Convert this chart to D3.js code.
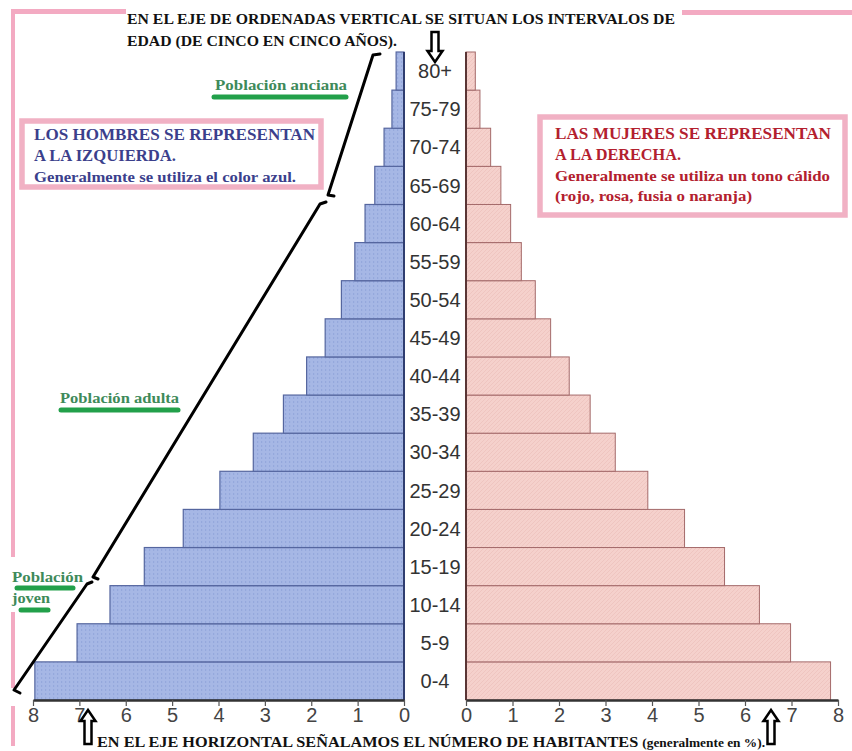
<!DOCTYPE html>
<html>
<head>
<meta charset="utf-8">
<script src="https://cdn.jsdelivr.net/npm/d3@7"></script>
<style>
  body { margin: 0; background: #fff; }
  svg { display: block; }
  .age { font-family: "Liberation Sans", Arial, sans-serif; font-size: 20px; fill: #333; }
  .tick text { font-family: "Liberation Sans", Arial, sans-serif; font-size: 20px; fill: #444; }
  .serif { font-family: "Liberation Serif", "Times New Roman", serif; font-weight: bold; }
</style>
</head>
<body>
<svg id="chart" width="852" height="751"></svg>
<script>
// Age groups, bottom to top
const ages = ['0-4', '5-9', '10-14', '15-19', '20-24', '25-29', '30-34', '35-39',
  '40-44', '45-49', '50-54', '55-59', '60-64', '65-69', '70-74', '75-79', '80+'];
// Men (left side), % of population
const men = [7.96, 7.05, 6.34, 5.60, 4.76, 3.97, 3.25, 2.60, 2.10, 1.70, 1.35, 1.06, 0.84, 0.63, 0.43, 0.26, 0.17];
// Women (right side), % of population
const women = [7.84, 6.98, 6.31, 5.56, 4.70, 3.91, 3.21, 2.67, 2.22, 1.82, 1.49, 1.19, 0.96, 0.75, 0.53, 0.30, 0.20];
const tickValues = [0, 1, 2, 3, 4, 5, 6, 7, 8];

const svg = d3.select('#chart');
const pink = '#f3aac2';

// Scales
const y = d3.scaleBand().domain(ages.slice().reverse()).range([52, 700]).padding(0);
const xL = d3.scaleLinear().domain([0, 8]).range([404, 33]);
const xR = d3.scaleLinear().domain([0, 8]).range([466, 838]);

// Textures for the bars
const defs = svg.append('defs');
const pb = defs.append('pattern').attr('id', 'dotsBlue').attr('width', 4).attr('height', 4)
  .attr('patternUnits', 'userSpaceOnUse');
pb.append('rect').attr('width', 4).attr('height', 4).attr('fill', '#a6b7e5');
pb.append('rect').attr('x', 1).attr('y', 1).attr('width', 1.2).attr('height', 2).attr('fill', '#95a8dc');
const pp = defs.append('pattern').attr('id', 'hatchPink').attr('width', 4).attr('height', 4)
  .attr('patternUnits', 'userSpaceOnUse');
pp.append('rect').attr('width', 4).attr('height', 4).attr('fill', '#f5d1cc');
pp.append('path').attr('d', 'M0,4 L4,0').attr('stroke', '#edc0ba').attr('stroke-width', 0.7);

// Pink decorative lines
svg.append('rect').attr('x', 11).attr('y', 9).attr('width', 115).attr('height', 5).attr('fill', pink);
svg.append('rect').attr('x', 682).attr('y', 10).attr('width', 170).attr('height', 5).attr('fill', pink);
svg.append('rect').attr('x', 11).attr('y', 9).attr('width', 4).attr('height', 548).attr('fill', pink);
svg.append('rect').attr('x', 11).attr('y', 612).attr('width', 4).attr('height', 76).attr('fill', pink);
svg.append('rect').attr('x', 11).attr('y', 706).attr('width', 4).attr('height', 40).attr('fill', pink);

// Bars - men
svg.append('g').selectAll('rect')
  .data(men)
  .join('rect')
  .attr('x', d => xL(d))
  .attr('y', (d, i) => y(ages[i]))
  .attr('width', d => xL(0) - xL(d))
  .attr('height', y.bandwidth())
  .attr('fill', 'url(#dotsBlue)')
  .attr('stroke', '#55669f')
  .attr('stroke-width', 1.2);

// Bars - women
svg.append('g').selectAll('rect')
  .data(women)
  .join('rect')
  .attr('x', xR(0))
  .attr('y', (d, i) => y(ages[i]))
  .attr('width', d => xR(d) - xR(0))
  .attr('height', y.bandwidth())
  .attr('fill', 'url(#hatchPink)')
  .attr('stroke', '#a46a6a')
  .attr('stroke-width', 1);

// Vertical axis lines
svg.append('line').attr('x1', xL(0)).attr('x2', xL(0)).attr('y1', 52).attr('y2', 700)
  .attr('stroke', '#2f3d70').attr('stroke-width', 2);
svg.append('line').attr('x1', xR(0)).attr('x2', xR(0)).attr('y1', 52).attr('y2', 700)
  .attr('stroke', '#5a3535').attr('stroke-width', 2);

// Age labels
svg.append('g').selectAll('text')
  .data(ages)
  .join('text')
  .attr('class', 'age')
  .attr('x', 435)
  .attr('y', d => y(d) + y.bandwidth() / 2)
  .attr('dy', '0.36em')
  .attr('text-anchor', 'middle')
  .text(d => d);

// Horizontal axes
function styleAxis(g) {
  g.select('.domain').attr('stroke', '#333').attr('stroke-width', 2.5);
  g.selectAll('.tick line').attr('stroke', '#555').attr('stroke-width', 1.2);
}
svg.append('g').attr('transform', 'translate(0,700)')
  .call(d3.axisBottom(xL).tickValues(tickValues).tickSize(6).tickPadding(2).tickSizeOuter(0).tickFormat(d3.format('d')))
  .call(styleAxis);
svg.append('g').attr('transform', 'translate(0,700)')
  .call(d3.axisBottom(xR).tickValues(tickValues).tickSize(6).tickPadding(2).tickSizeOuter(0).tickFormat(d3.format('d')))
  .call(styleAxis);

// Top title
svg.append('text').attr('class', 'serif').attr('x', 127).attr('y', 24)
  .attr('font-size', 15).attr('fill', '#111')
  .attr('textLength', 548).attr('lengthAdjust', 'spacingAndGlyphs')
  .text('EN EL EJE DE ORDENADAS VERTICAL SE SITUAN LOS INTERVALOS DE');
svg.append('text').attr('class', 'serif').attr('x', 127).attr('y', 46)
  .attr('font-size', 15).attr('fill', '#111')
  .attr('textLength', 270).attr('lengthAdjust', 'spacingAndGlyphs')
  .text('EDAD (DE CINCO EN CINCO AÑOS).');

// Bottom title
const bt = svg.append('text').attr('class', 'serif').attr('x', 97).attr('y', 747)
  .attr('fill', '#111').attr('textLength', 668).attr('lengthAdjust', 'spacingAndGlyphs');
bt.append('tspan').attr('font-size', 14).text('EN EL EJE HORIZONTAL SEÑALAMOS EL NÚMERO DE HABITANTES ');
bt.append('tspan').attr('font-size', 11.5).text('(generalmente en %).');

// Hollow arrows
function arrow(cx, tipY, len, dir) {
  const s = dir; // 1 = points down, -1 = points up
  const base = tipY - s * len;
  const neck = tipY - s * 11;
  const p = [[cx - 3.5, base], [cx + 3.5, base], [cx + 3.5, neck], [cx + 7.5, neck],
    [cx, tipY], [cx - 7.5, neck], [cx - 3.5, neck]];
  svg.append('path').attr('d', d3.line()(p) + 'Z')
    .attr('fill', '#fff').attr('stroke', '#000').attr('stroke-width', 2.5)
    .attr('stroke-linejoin', 'miter');
}
arrow(435, 62, 30, 1);
arrow(88, 710, 34, -1);
arrow(771, 710, 34, -1);

// Info boxes
function infoBox(x, yTop, w, h, lines, color) {
  svg.append('rect').attr('x', x).attr('y', yTop).attr('width', w).attr('height', h)
    .attr('fill', '#fff').attr('stroke', '#f1b1c4').attr('stroke-width', 5.5);
  lines.forEach(l => {
    svg.append('text').attr('class', 'serif').attr('x', l.x).attr('y', l.y)
      .attr('font-size', l.size).attr('fill', color)
      .attr('textLength', l.w).attr('lengthAdjust', 'spacingAndGlyphs')
      .text(l.t);
  });
}
infoBox(22, 121, 299, 66, [
  { t: 'LOS HOMBRES SE REPRESENTAN', x: 34, y: 140, size: 16, w: 281 },
  { t: 'A LA IZQUIERDA.', x: 34, y: 161, size: 16, w: 142 },
  { t: 'Generalmente se utiliza el color azul.', x: 34, y: 182, size: 14.5, w: 262 }
], '#3b3f8c');
infoBox(540, 117, 305, 98, [
  { t: 'LAS MUJERES SE REPRESENTAN', x: 555, y: 139, size: 16, w: 276 },
  { t: 'A LA DERECHA.', x: 555, y: 160, size: 16, w: 126 },
  { t: 'Generalmente se utiliza un tono cálido', x: 555, y: 181, size: 14.5, w: 275 },
  { t: '(rojo, rosa, fusia o naranja)', x: 555, y: 201, size: 14.5, w: 197 }
], '#b3202e');

// Green group labels with underline bars
const groups = [
  { t: 'Población anciana', x: 215, y: 90, w: 132, ux: 214, uy: 97, uw: 132 },
  { t: 'Población adulta', x: 60, y: 403, w: 119, ux: 61, uy: 410, uw: 117 },
  { t: 'Población', x: 12, y: 582, w: 71, ux: 17, uy: 588, uw: 56 },
  { t: 'joven', x: 12, y: 603, w: 38, ux: 21, uy: 610, uw: 27 }
];
groups.forEach(g => {
  svg.append('text').attr('class', 'serif').attr('x', g.x).attr('y', g.y)
    .attr('font-size', 15).attr('fill', '#3e8a5a')
    .attr('textLength', g.w).attr('lengthAdjust', 'spacingAndGlyphs').text(g.t);
  svg.append('line').attr('x1', g.ux).attr('x2', g.ux + g.uw).attr('y1', g.uy).attr('y2', g.uy)
    .attr('stroke', '#22a04a').attr('stroke-width', 5).attr('stroke-linecap', 'round');
});

// Black bracket lines for the age groups
const brackets = [
  [[380, 54], [373, 55], [328, 195], [334, 196]],
  [[326, 202], [320, 204], [93, 577], [98, 579]],
  [[92, 582], [87, 584], [14, 690], [20, 693]]
];
brackets.forEach(b => {
  svg.append('path').attr('d', d3.line()(b))
    .attr('fill', 'none').attr('stroke', '#000').attr('stroke-width', 3)
    .attr('stroke-linejoin', 'round').attr('stroke-linecap', 'round');
});
</script>
</body>
</html>
